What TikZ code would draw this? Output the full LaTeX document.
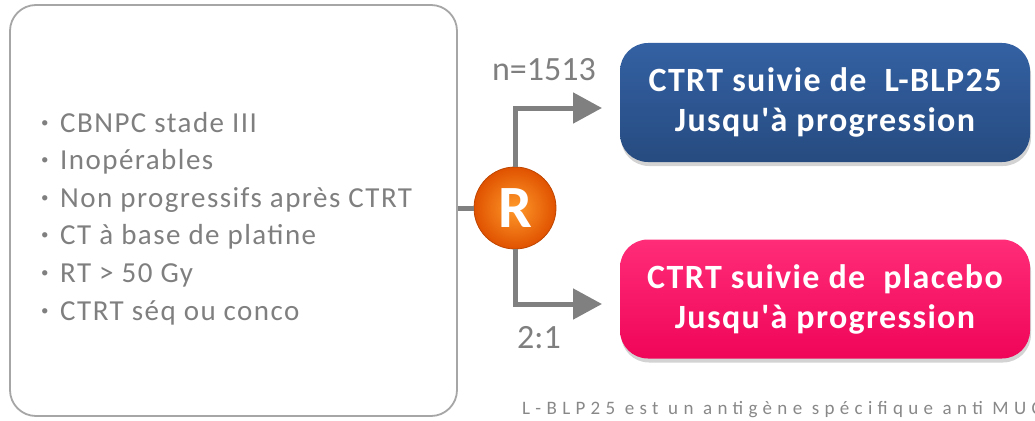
\documentclass[tikz,border=0pt]{standalone}
\usepackage{fontspec}
\setmainfont{Carlito}
\newfontfamily\notefont[LetterSpace=28]{Carlito}
\newfontfamily\listfont[LetterSpace=5]{Carlito}
\newfontfamily\armfont[LetterSpace=4]{Carlito}
\usetikzlibrary{arrows.meta,shadows}
\definecolor{txtgray}{HTML}{7F7F7F}
\definecolor{notegray}{HTML}{888888}
\definecolor{linegray}{HTML}{808080}
\definecolor{boxborder}{HTML}{A6A6A6}
\definecolor{armblue}{HTML}{264B80}
\definecolor{armbluetop}{HTML}{3461A3}
\definecolor{armpink}{HTML}{F00558}
\definecolor{armpinktop}{HTML}{FF2C78}
\definecolor{ballin}{HTML}{FF9A2A}
\definecolor{ballout}{HTML}{E05200}
\begin{document}
\begin{tikzpicture}[x=1pt,y=-1pt,
  critbox/.style={draw=boxborder, line width=1.8pt, rounded corners=26pt,
    minimum width=447pt, minimum height=411pt, inner sep=0pt},
  crittext/.style={text=txtgray, font=\listfont\fontsize{29}{37.6}\selectfont,
    inner sep=0pt, anchor=base west},
  arm/.style={rounded corners=28pt, minimum width=410pt, minimum height=119pt,
    inner sep=0pt, text=white, font=\armfont\bfseries\fontsize{34}{40}\selectfont, align=center,
    drop shadow={opacity=0.35, shadow xshift=1pt, shadow yshift=-4pt}},
  ball/.style={circle, minimum size=82pt, inner sep=0pt, shading=radial,
    inner color=ballin, outer color=ballout, draw=ballout!85!black, line width=0.8pt,
    text=white, font=\bfseries\fontsize{60}{60}\selectfont},
  conn/.style={draw=linegray, line width=5pt},
  arrowconn/.style={conn, -{Triangle[length=29pt,width=30pt]}},
  lbl/.style={text=txtgray, font=\fontsize{34}{40}\selectfont, inner sep=0pt, anchor=base},
  note/.style={text=notegray, font=\notefont\fontsize{19}{20}\selectfont, inner sep=0pt, anchor=base west}
]
\useasboundingbox (0,0) rectangle (1035,420);
\clip (0,0) rectangle (1035,420);

\node[critbox] (crit) at (233.5,210.5) {};
\foreach \i/\t in {1/CBNPC stade III, 2/Inopérables, 3/Non progressifs après CTRT,
  4/CT à base de platine, 5/RT > 50 Gy, 6/CTRT séq ou conco}{
  \node[crittext] (c\i) at (41,{132+37.6*(\i-1)})
    {\makebox[19pt][l]{\raisebox{5pt}{\fontsize{15}{15}\selectfont•}}\t};
}

\node[arm, top color=armbluetop, bottom color=armblue] (top) at (825,102.5)
  {CTRT suivie de~ L-BLP25\\Jusqu'à progression};
\node[arm, top color=armpinktop, bottom color=armpink] (bot) at (825,299)
  {CTRT suivie de~ placebo\\Jusqu'à progression};

\node[ball] (R) at (515,208) {R};

\coordinate (ta) at (602,108);
\coordinate (ba) at (602,304);
\draw[conn] (crit.east |- R.west) -- (R.west);
\draw[arrowconn] (R.north) |- (ta);
\draw[arrowconn] (R.south) |- (ba);

\node[lbl] (n) at (544,80) {n=1513};
\node[lbl] (ratio) at (539,348) {2:1};

\node[note] (fn) at (522,414) {L-BLP25 est un antigène spécifique anti MUC1};
\end{tikzpicture}
\end{document}
